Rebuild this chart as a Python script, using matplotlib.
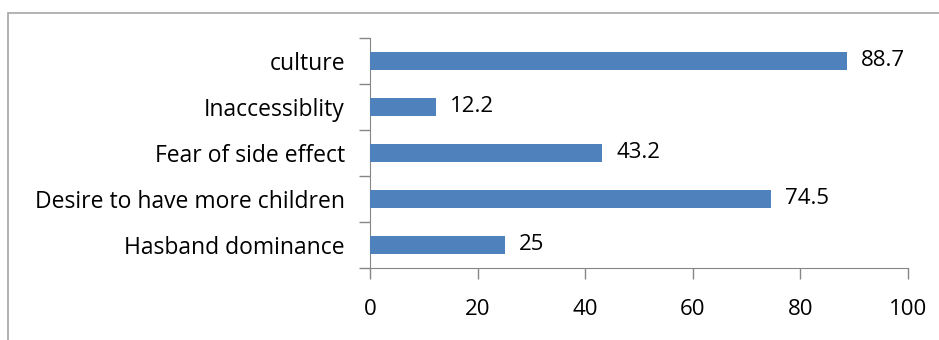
import matplotlib.pyplot as plt
from matplotlib.patches import Rectangle

# Data (bottom to top)
categories = ["Hasband dominance", "Desire to have more children", "Fear of side effect",
              "Inaccessiblity", "culture"]
values = [25, 74.5, 43.2, 12.2, 88.7]
xticks = [0, 20, 40, 60, 80, 100]

plt.rcParams['font.family'] = ['Open Sans', 'DejaVu Sans']

fig = plt.figure(figsize=(9.39, 3.4), dpi=100)
W, H = 939, 340

# outer chart border (clipped on right and bottom like the original)
fig.patches.append(Rectangle((8 / W, -0.1), 1.2, 1.1 - 13 / H, transform=fig.transFigure,
                             fill=False, edgecolor='#a6a6a6', linewidth=1.2))

ax = fig.add_axes([370 / W, 72 / H, 538 / W, 230 / H])
pos = list(range(len(categories)))
ax.barh(pos, values, height=0.4, color='#4F81BD', zorder=3)

for p, v in zip(pos, values):
    ax.text(v + 2.6, p, f"{v:g}", va='center', ha='left', fontsize=16, color='black')

ax.set_xlim(0, 100)
ax.set_ylim(-0.5, len(categories) - 0.5)
ax.set_xticks(xticks)
ax.set_yticks(pos)
ax.set_yticklabels(categories)
ax.set_yticks([p - 0.5 for p in pos] + [len(pos) - 0.5], minor=True)

for s in ['top', 'right']:
    ax.spines[s].set_visible(False)
for s in ['left', 'bottom']:
    ax.spines[s].set_color('#868686')

ax.tick_params(axis='y', which='major', length=0, pad=18, labelsize=16.5)
ax.tick_params(axis='y', which='minor', length=8, color='#868686', width=1)
ax.tick_params(axis='x', length=8, color='#868686', width=1, pad=14, labelsize=16)

fig.savefig("out.png", dpi=100)
